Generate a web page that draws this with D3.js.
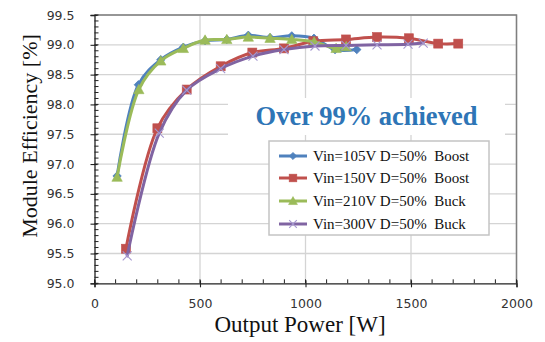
<!DOCTYPE html>
<html>
<head>
<meta charset="utf-8">
<script src="https://cdn.jsdelivr.net/npm/d3@7"></script>
<style>
  html, body { margin: 0; padding: 0; background: #fff; }
  svg { display: block; }
</style>
</head>
<body>
<svg id="chart" width="545" height="342"></svg>
<script>
// Measured module efficiency versus output power
const seriesNames = [
  "Vin=105V D=50%  Boost",
  "Vin=150V D=50%  Boost",
  "Vin=210V D=50%  Buck",
  "Vin=300V D=50%  Buck"
];
const powerBoost105 = [107, 208, 314, 421, 524, 627, 729, 832, 935, 1040, 1140, 1243];
const effBoost105   = [96.80, 98.33, 98.75, 98.96, 99.07, 99.09, 99.16, 99.12, 99.15, 99.11, 98.92, 98.92];
const powerBoost150 = [149, 298, 437, 598, 748, 898, 1037, 1192, 1339, 1490, 1629, 1724];
const effBoost150   = [95.58, 97.60, 98.25, 98.64, 98.87, 98.94, 99.06, 99.09, 99.13, 99.11, 99.02, 99.02];
const powerBuck210  = [107, 210, 314, 421, 524, 627, 729, 832, 935, 1041, 1145, 1193];
const effBuck210    = [96.78, 98.25, 98.73, 98.94, 99.08, 99.09, 99.13, 99.11, 99.09, 99.05, 98.94, 98.97];
const powerBuck300  = [155, 307, 437, 598, 751, 898, 1045, 1192, 1339, 1486, 1558];
const effBuck300    = [95.46, 97.52, 98.24, 98.60, 98.81, 98.92, 98.98, 98.99, 99.00, 99.01, 99.03];

const xTicks = [0, 500, 1000, 1500, 2000];
const yTicks = [95.0, 95.5, 96.0, 96.5, 97.0, 97.5, 98.0, 98.5, 99.0, 99.5];

const colors = ["#4F81BD", "#C0504D", "#9BBB59", "#8064A2"];
const markers = ["diamond", "square", "triangle", "cross"];

const series = [
  { name: seriesNames[0], x: powerBoost105, y: effBoost105 },
  { name: seriesNames[1], x: powerBoost150, y: effBoost150 },
  { name: seriesNames[2], x: powerBuck210,  y: effBuck210 },
  { name: seriesNames[3], x: powerBuck300,  y: effBuck300 }
].map((s, i) => ({ ...s, color: colors[i], marker: markers[i],
  points: s.x.map((v, j) => [v, s.y[j]]) }));

const svg = d3.select("#chart");
const L = 94.5, R = 516.5, T = 15, B = 283.3;
const serif = "'Liberation Serif', 'Times New Roman', serif";

const x = d3.scaleLinear().domain([0, 2000]).range([L, R]);
const y = d3.scaleLinear().domain([95, 99.5]).range([B, T]);

// grid
const grid = svg.append("g");
grid.selectAll(".gy").data(yTicks.slice(1)).join("line")
  .attr("x1", L).attr("x2", R).attr("y1", d => y(d)).attr("y2", d => y(d))
  .attr("stroke", "#d4d4d4").attr("stroke-width", 1.3);
grid.selectAll(".gx").data(xTicks.slice(1)).join("line")
  .attr("x1", d => x(d)).attr("x2", d => x(d)).attr("y1", T).attr("y2", B)
  .attr("stroke", "#d4d4d4").attr("stroke-width", 1.3);

// frame (top and right)
svg.append("path")
  .attr("d", `M${L},${T}H${R}V${B}`)
  .attr("fill", "none").attr("stroke", "#7f7f7f").attr("stroke-width", 1.5);

// annotation box
svg.append("rect").attr("x", 228).attr("y", 98).attr("width", 277).attr("height", 37)
  .attr("fill", "#fff");
svg.append("text").attr("x", 366.5).attr("y", 125)
  .attr("text-anchor", "middle")
  .attr("font-family", serif)
  .attr("font-weight", "bold").attr("font-size", 26.5).attr("fill", "#2E75B6")
  .text("Over 99% achieved");

// axes
const yAxis = svg.append("g").attr("transform", `translate(${L},0)`)
  .call(d3.axisLeft(y).tickValues(yTicks).tickFormat(d3.format(".1f")).tickSize(4).tickPadding(16));
const xAxis = svg.append("g").attr("transform", `translate(0,${B})`)
  .call(d3.axisBottom(x).tickValues(xTicks).tickFormat(d3.format("d")).tickSize(4).tickPadding(12));

[yAxis, xAxis].forEach(a => {
  a.select(".domain").attr("stroke", "#222").attr("stroke-width", 1.3);
  a.selectAll(".tick line").attr("stroke", "#222").attr("stroke-width", 1.1);
  a.selectAll(".tick text").attr("font-family", "'DejaVu Sans', Verdana, sans-serif")
    .attr("font-size", 12.5).attr("fill", "#333");
});
// major ticks cross the axis line
yAxis.selectAll(".tick line").attr("x1", 3);
xAxis.selectAll(".tick line").attr("y1", -3);

// minor ticks, inside
const yMinor = d3.range(95, 99.5001, 0.1);
svg.append("g").selectAll("line").data(yMinor).join("line")
  .attr("x1", L).attr("x2", L + 4).attr("y1", d => y(d)).attr("y2", d => y(d))
  .attr("stroke", "#222").attr("stroke-width", 1);
const xMinor = d3.range(0, 2001, 100);
svg.append("g").selectAll("line").data(xMinor).join("line")
  .attr("x1", d => x(d)).attr("x2", d => x(d)).attr("y1", B).attr("y2", B - 4)
  .attr("stroke", "#222").attr("stroke-width", 1);

// marker drawing
function drawMarker(g, type, color, cx, cy, scale = 1) {
  if (type === "diamond") {
    const r = 4.2 * scale;
    g.append("path").attr("d", `M${cx},${cy - r}L${cx + r},${cy}L${cx},${cy + r}L${cx - r},${cy}Z`)
      .attr("fill", color).attr("stroke", color).attr("stroke-width", 0.8);
  } else if (type === "square") {
    const h = 4.5 * scale;
    g.append("rect").attr("x", cx - h).attr("y", cy - h).attr("width", 2 * h).attr("height", 2 * h)
      .attr("fill", color).attr("stroke", color).attr("stroke-width", 0.6);
  } else if (type === "triangle") {
    const r = 5.2 * scale;
    g.append("path").attr("d", `M${cx},${cy - r}L${cx + r},${cy + r * 0.8}L${cx - r},${cy + r * 0.8}Z`)
      .attr("fill", color).attr("stroke", color).attr("stroke-width", 0.6);
  } else {
    const r = 4.5 * scale;
    g.append("path").attr("d", `M${cx - r},${cy - r}L${cx + r},${cy + r}M${cx - r},${cy + r}L${cx + r},${cy - r}`)
      .attr("fill", "none").attr("stroke", "#A597CF").attr("stroke-width", 1.1);
  }
}

// series lines and markers
const line = d3.line().x(d => x(d[0])).y(d => y(d[1])).curve(d3.curveCatmullRom.alpha(0.5));
series.forEach(s => {
  const g = svg.append("g");
  g.append("path").datum(s.points).attr("d", line)
    .attr("fill", "none").attr("stroke", s.color).attr("stroke-width", 3)
    .attr("stroke-linejoin", "round").attr("stroke-linecap", "round");
  s.points.forEach(p => drawMarker(g, s.marker, s.color, x(p[0]), y(p[1])));
});

// legend
const lg = svg.append("g");
lg.append("rect").attr("x", 269).attr("y", 141).attr("width", 220).attr("height", 94)
  .attr("fill", "#fff").attr("stroke", "#c4c4c4").attr("stroke-width", 1.5);
const rowY = [156, 178, 201, 224];
series.forEach((s, i) => {
  const yy = rowY[i];
  lg.append("line").attr("x1", 279).attr("x2", 307).attr("y1", yy).attr("y2", yy)
    .attr("stroke", s.color).attr("stroke-width", 3);
  drawMarker(lg, s.marker, s.color, 293, yy, 0.85);
  lg.append("text").attr("x", 313).attr("y", yy + 5)
    .attr("font-family", serif)
    .attr("font-size", 15).attr("fill", "#111")
    .attr("xml:space", "preserve").style("white-space", "pre")
    .text(s.name);
});

// axis titles
svg.append("text").attr("x", 300).attr("y", 332)
  .attr("text-anchor", "middle")
  .attr("font-family", serif)
  .attr("font-size", 23).attr("fill", "#111")
  .text("Output Power [W]");
svg.append("text").attr("transform", "translate(37,136) rotate(-90)")
  .attr("text-anchor", "middle")
  .attr("font-family", serif)
  .attr("font-size", 22).attr("fill", "#111")
  .text("Module Efficiency [%]");
</script>
</body>
</html>
